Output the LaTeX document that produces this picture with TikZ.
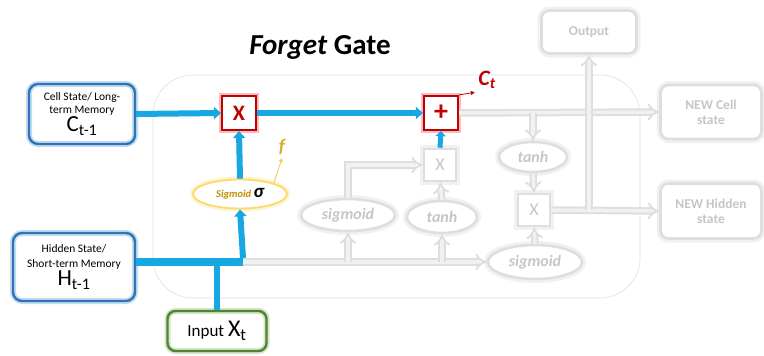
\documentclass[tikz,border=0pt]{standalone}
\usepackage{fontspec}
\setmainfont{Carlito}
\usetikzlibrary{arrows.meta,shapes.geometric}

\definecolor{flow}{HTML}{17A8E3}
\definecolor{boxblue}{HTML}{2E75B6}
\definecolor{glowblue}{HTML}{C4DCF2}
\definecolor{gatered}{HTML}{C00000}
\definecolor{glowred}{HTML}{F5BDBD}
\definecolor{boxgreen}{HTML}{548235}
\definecolor{glowgreen}{HTML}{D3E6C6}
\definecolor{sigline}{HTML}{FFD966}
\definecolor{glowyel}{HTML}{FFF3D0}
\definecolor{sigtext}{HTML}{BF9000}
\definecolor{fline}{HTML}{DEDEDE}
\definecolor{fglow}{HTML}{F1F1F1}
\definecolor{ftext}{HTML}{C6C6C6}

\begin{document}
\begin{tikzpicture}[x=1pt,y=-1pt,
	statebox/.style={draw=boxblue, line width=2.4pt, rounded corners=9pt,
		preaction={draw=glowblue, line width=6pt}, align=center, inner sep=0pt},
	inputbox/.style={draw=boxgreen, line width=2.4pt, rounded corners=8pt,
		preaction={draw=glowgreen, line width=6pt}, inner sep=0pt},
	opbox/.style={draw=gatered, line width=2.2pt, fill=white,
		preaction={draw=glowred, line width=6pt}, minimum size=34pt, inner sep=0pt,
		text=gatered, font=\fontsize{22}{22}\selectfont\bfseries},
	sigbox/.style={ellipse, draw=sigline, line width=1.8pt, fill=white,
		preaction={draw=glowyel, line width=6pt}, inner sep=0pt},
	fadebox/.style={draw=fline, line width=2.6pt, rounded corners=8pt, fill=white,
		preaction={draw=fglow, line width=8pt}, align=center, inner sep=0pt,
		text=ftext, font=\fontsize{13.5}{15}\selectfont\bfseries},
	fadeop/.style={fadebox, rounded corners=0pt, minimum size=32pt,
		font=\fontsize{18}{18}\selectfont},
	fadeell/.style={ellipse, draw=fline, line width=2.6pt, fill=white,
		preaction={draw=fglow, line width=8pt}, inner sep=0pt,
		text=ftext, font=\fontsize{16}{16}\selectfont\bfseries\itshape},
	flowarrow/.style={draw=flow, line width=6pt, -{Triangle[length=7pt,width=12pt]}},
	fadearrow/.style={draw=fline, line width=2pt, double=fglow, double distance=3.5pt,
		-{Implies}}]

	\useasboundingbox (0,0) rectangle (764,356);

	% cell frame
	\draw[black!13, line width=0.6pt, rounded corners=40pt] (153,75) rectangle (640,298);

	\node[font=\fontsize{29}{32}\selectfont\bfseries] (title) at (320,47) {\textit{Forget} Gate};

	% inputs
	\node[statebox, minimum width=106pt, minimum height=60pt, font=\fontsize{11.5}{13}\selectfont] (cell) at (82,114)
		{Cell State/ Long-\\term Memory\\[1pt]{\fontsize{23}{22}\selectfont C\textsubscript{t-1}}};
	\node[statebox, minimum width=122pt, minimum height=68pt, font=\fontsize{11.5}{15}\selectfont] (hidden) at (74,267)
		{Hidden State/\\Short-term Memory\\[1pt]{\fontsize{23}{22}\selectfont H\textsubscript{t-1}}};
	\node[inputbox, minimum width=99pt, minimum height=40pt, font=\fontsize{17}{17}\selectfont] (input) at (217,331)
		{Input {\fontsize{24}{24}\selectfont X\textsubscript{t}}};

	% forget gate
	\node[opbox] (mulf) at (239,113) {X};
	\node[opbox, font=\fontsize{28}{28}\selectfont\bfseries] (plus) at (441,113) {+};
	\node[sigbox, minimum width=94pt, minimum height=29pt] (sig) at (240,194)
		{{\fontsize{10.5}{10}\selectfont\bfseries\itshape\color{sigtext}Sigmoid} {\fontsize{19}{18}\selectfont\bfseries\itshape σ}};

	% faded parts
	\node[fadeell, minimum width=94pt, minimum height=32pt] (sigi) at (348,215) {sigmoid};
	\node[fadeell, minimum width=70pt, minimum height=32pt] (tanhi) at (442,217) {tanh};
	\node[fadeop] (muli) at (440,165) {X};
	\node[fadeell, minimum width=68pt, minimum height=30pt] (tanhc) at (533,157) {tanh};
	\node[fadeop] (mulo) at (534,210) {X};
	\node[fadeell, minimum width=94pt, minimum height=34pt] (sigo) at (535,262) {sigmoid};
	\node[fadebox, minimum width=95pt, minimum height=43pt] (output) at (589,32) {Output};
	\node[fadebox, minimum width=101pt, minimum height=54pt] (newcell) at (711,112) {NEW Cell\\state};
	\node[fadebox, minimum width=101pt, minimum height=55pt] (newhid) at (711,211) {NEW Hidden\\state};

	\coordinate (j1) at (243,262);

	\draw[fadearrow] (j1) -- (sigo.west);
	\draw[fadearrow] (sigi.south |- j1) -- (sigi.south);
	\draw[fadearrow] (tanhi.south |- j1) -- (tanhi.south);
	\draw[fadearrow] (sigi.north) -- (sigi.north |- muli) -- (muli.west);
	\draw[fadearrow] (tanhi.north) -- (muli.south);
	\draw[fadearrow] (plus.east) -- (newcell.west);
	\draw[fadearrow] (tanhc.north |- plus) -- (tanhc.north);
	\draw[fadearrow] (tanhc.south) -- (mulo.north);
	\draw[fadearrow] (sigo.north) -- (mulo.south);
	\draw[fadearrow] (mulo.east) -- (newhid.west);
	\draw[fadearrow] (output.south |- mulo) -- (output.south);

	% active flow
	\draw[flowarrow] (cell.east) -- (mulf.west);
	\draw[flowarrow] (mulf.east) -- (plus.west);
	\draw[flowarrow] (sig.north) -- (mulf.south);
	\draw[flow, line width=8pt] (hidden.east |- j1) -- (j1);
	\draw[flowarrow] ([yshift=4pt]j1) -- (sig.south);
	\draw[flow, line width=6pt] (input.north) -- (input.north |- j1);
	\draw[flow, line width=5pt, -{Triangle[length=5pt,width=10pt]}] (muli.north) -- (plus.south);

	% labels
	\node[text=gatered, font=\fontsize{22}{22}\selectfont\bfseries\itshape] (ct) at (487,80) {C\textsubscript{t}};
	\draw[gatered, line width=0.8pt, -{Triangle[length=4pt,width=4pt]}] (plus.north east) -- (ct.south west);
	\node[text=sigtext!60!sigline, font=\fontsize{19}{19}\selectfont\itshape\bfseries] (flab) at (282,147) {f};
	\draw[sigline!80!sigtext, line width=0.8pt, -{Triangle[length=4pt,width=4pt]}] (sig.north east) -- (flab.south);
\end{tikzpicture}
\end{document}
